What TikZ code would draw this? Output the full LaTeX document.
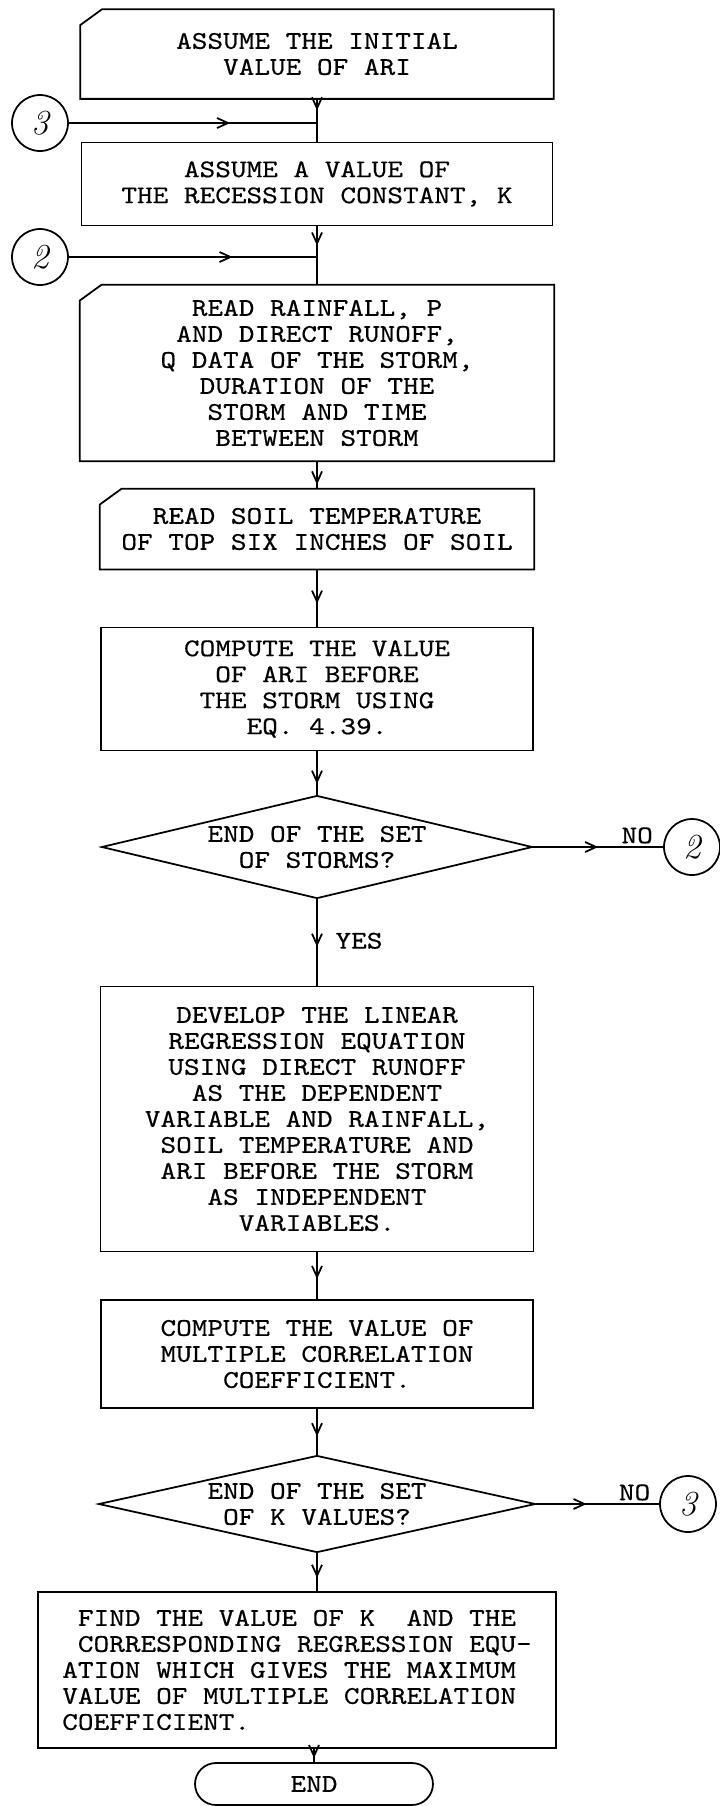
\documentclass[tikz,border=0pt]{standalone}
\usepackage{fontspec}
\newfontfamily\typefont[FakeStretch=1.17, FakeBold=0.5]{lmmono10-regular.otf}
\usetikzlibrary{shapes.geometric,arrows.meta,decorations.markings}

\tikzset{
  box/.style={draw, inner sep=2pt, align=center,
    font=\typefont\fontsize{14.5}{14.8}\selectfont},
  inbox/.style={box, draw=none},
  decision/.style={box, diamond, aspect=4.4, inner sep=0pt},
  term/.style={box, rounded corners=0.42cm, minimum width=4.76cm, minimum height=0.84cm},
  conn/.style={draw, circle, minimum size=1.12cm, inner sep=0pt,
    font=\fontsize{20}{20}\selectfont\itshape},
  lbl/.style={inner sep=1.5pt, font=\typefont\fontsize{14.5}{14.8}\selectfont},
  flow/.style={postaction={decorate}, decoration={markings,
    mark=at position #1 with {\arrow{Straight Barb[length=0.22cm,width=0.2cm]}}}},
  flow/.default=0.5,
}

% outline of an input box, top left corner cut off
\newcommand{\cutframe}[1]{%
  \draw ([yshift=-0.32cm]#1.north west) -- ([xshift=0.44cm]#1.north west)
    -- (#1.north east) -- (#1.south east) -- (#1.south west) -- cycle;}

\begin{document}
\begin{tikzpicture}[x=0.02cm, y=-0.02cm, line width=1pt]
  \useasboundingbox (0,0) rectangle (720,1806);

  % start and the two loops
  \node[inbox, minimum width=9.44cm, minimum height=1.76cm] (init) at (317,54)
    {ASSUME THE INITIAL\\VALUE OF ARI};
  \cutframe{init}
  \node[box, minimum width=9.42cm, minimum height=1.66cm] (kval) at (317,184)
    {ASSUME A VALUE OF\\THE RECESSION CONSTANT, K};
  \node[inbox, minimum width=9.46cm, minimum height=3.5cm] (rain) at (317,373)
    {READ RAINFALL, P\\AND DIRECT RUNOFF,\\Q DATA OF THE STORM,\\DURATION OF THE\\STORM AND TIME\\BETWEEN STORM};
  \cutframe{rain}
  \node[inbox, minimum width=8.66cm, minimum height=1.58cm] (soil) at (317,529)
    {READ SOIL TEMPERATURE\\OF TOP SIX INCHES OF SOIL};
  \cutframe{soil}
  \node[box, minimum width=8.64cm, minimum height=2.46cm] (ari) at (317,689)
    {COMPUTE THE VALUE\\OF ARI BEFORE\\THE STORM USING\\EQ. 4.39.};
  \node[decision, minimum width=8.62cm, minimum height=2.06cm] (storms) at (317,847)
    {END OF THE SET\\OF STORMS?};

  % regression
  \node[box, minimum width=8.66cm, minimum height=5.3cm] (regr) at (317,1119)
    {DEVELOP THE LINEAR\\REGRESSION EQUATION\\USING DIRECT RUNOFF\\AS THE DEPENDENT\\VARIABLE AND RAINFALL,\\SOIL TEMPERATURE AND\\ARI BEFORE THE STORM\\AS INDEPENDENT\\VARIABLES.};
  \node[box, minimum width=8.64cm, minimum height=2.16cm] (corr) at (317,1354)
    {COMPUTE THE VALUE OF\\MULTIPLE CORRELATION\\COEFFICIENT.};
  \node[decision, minimum width=8.74cm, minimum height=1.94cm] (kset) at (317,1504)
    {END OF THE SET\\OF K VALUES?};
  \node[box, align=left, minimum width=10.36cm, minimum height=3.12cm] (best) at (297,1670)
    {\phantom{X}FIND THE VALUE OF K\ \ AND THE\\\phantom{X}CORRESPONDING REGRESSION EQU-\\ATION WHICH GIVES THE MAXIMUM\\VALUE OF MULTIPLE CORRELATION\\COEFFICIENT.};
  \node[term] (stop) at (314,1784) {END};

  % connectors
  \node[conn] (c3a) at (40,123) {3};
  \node[conn] (c2a) at (40,257) {2};
  \node[conn] (c2b) at (692,847) {2};
  \node[conn] (c3b) at (688,1504) {3};

  % flow lines
  \draw[flow=0.27] (init) -- (kval);
  \draw[flow=0.65] (c3a) -- (c3a -| init.south);
  \draw[flow=0.33] (kval) -- (rain);
  \draw[flow=0.66] (c2a) -- (c2a -| kval.south);
  \draw[flow=0.85] (rain) -- (soil);
  \draw[flow=0.6] (soil) -- (ari);
  \draw[flow=0.75] (ari) -- (storms);
  \draw[flow=0.55] (storms) -- node[lbl, pos=0.48, right=0.3cm] {YES} (regr);
  \draw[flow=0.5] (storms) -- node[lbl, pos=0.8, above] {NO} (c2b);
  \draw[flow=0.57] (regr) -- (corr);
  \draw[flow=0.6] (corr) -- (kset);
  \draw[flow=0.41] (kset) -- node[lbl, pos=0.8, above] {NO} (c3b);
  \draw[flow=0.65] (kset.south) -- (kset.south |- best.north);
  \draw[flow=0.7] (stop.north |- best.south) -- (stop);
\end{tikzpicture}
\end{document}
